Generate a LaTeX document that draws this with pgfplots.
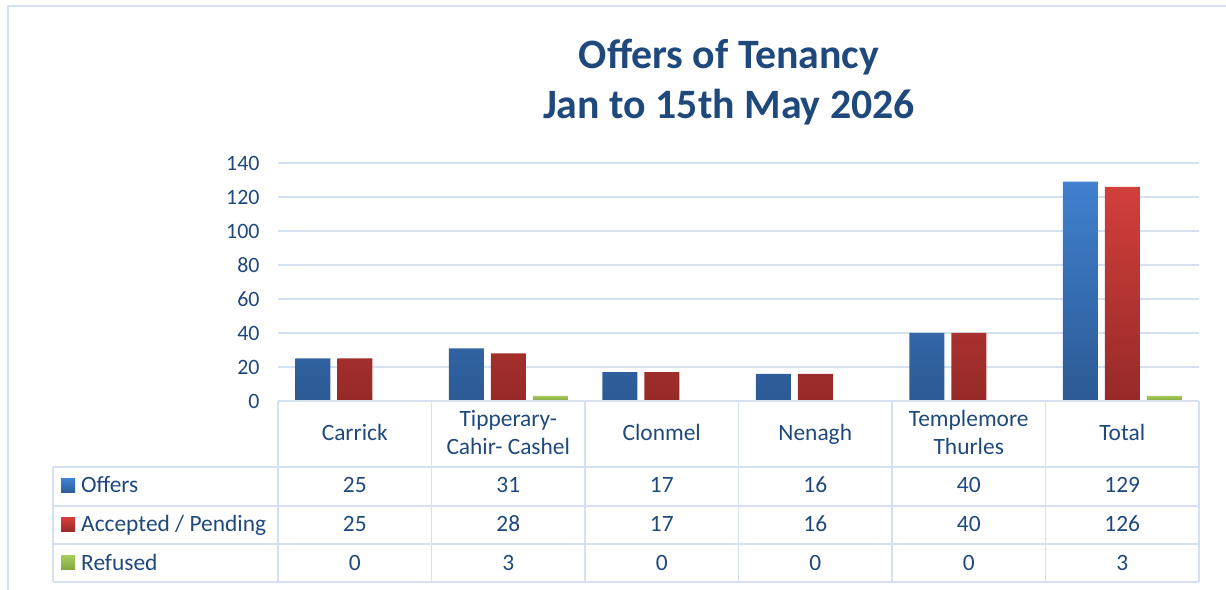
\documentclass[border=0pt]{standalone}
\usepackage{pgfplots}
\pgfplotsset{compat=1.18}
\usepackage{pgfplotstable}
\usepackage{fontspec}
\setmainfont{Carlito}
\definecolor{txt}{HTML}{1F497D}
\definecolor{gridc}{HTML}{D5E1F1}
\definecolor{blueT}{HTML}{4081D0}
\definecolor{blueB}{HTML}{2C5A94}
\definecolor{redT}{HTML}{D23F3B}
\definecolor{redB}{HTML}{962A28}
\definecolor{greenT}{HTML}{A5CB5C}
\definecolor{greenB}{HTML}{82A43F}

\pgfplotstableread{
x offers accepted refused
0 25 25 0
1 31 28 3
2 17 17 0
3 16 16 0
4 40 40 0
5 129 126 3
}\datatable

\newcommand{\tabfont}{\fontsize{23.5}{28}\selectfont\color{txt}}

\begin{document}
\begin{tikzpicture}[x=1bp,y=1bp]
\path[use as bounding box] (0,0) rectangle (1226,590);
% outer frame
\draw[gridc, line width=2.2bp] (8,-5) -- (8,584) -- (1230,584);
% title
\node[anchor=base, inner sep=0, text=txt, font=\fontsize{42}{50}\selectfont\bfseries] at (729,521) {Offers of Tenancy};
\node[anchor=base, inner sep=0, text=txt, font=\fontsize{42}{50}\selectfont\bfseries] at (729,471) {Jan to 15th May 2026};

\begin{axis}[
  at={(278bp,189bp)}, anchor=south west,
  scale only axis, width=921bp, height=238bp,
  xmin=-0.5, xmax=5.5, ymin=0, ymax=140,
  ytick={0,20,...,140}, xtick=\empty,
  axis line style={draw=none},
  major tick length=0pt,
  ymajorgrids, grid style={gridc, line width=1.6bp},
  ybar=7bp, bar width=35bp,
  /pgf/number format/assume math mode=true,
  yticklabel style={font=\fontsize{22}{26}\selectfont, text=txt, xshift=-15bp},
  clip=false,
]
\addplot[draw=none, top color=blueT, bottom color=blueB] table[x=x, y=offers] {\datatable};
\addplot[draw=none, top color=redT, bottom color=redB] table[x=x, y=accepted] {\datatable};
\addplot[draw=none, top color=greenT, bottom color=greenB] table[x=x, y=refused] {\datatable};
\end{axis}

% data table grid
\begin{scope}[gridc, line width=1.6bp]
  \draw (278,189) -- (1199,189);
  \foreach \yy in {123,84,46,8} \draw (53,\yy) -- (1199,\yy);
  \draw (53,123) -- (53,8);
  \foreach \k in {0,...,6} \draw ({278+153.5*\k},189) -- ({278+153.5*\k},8);
\end{scope}

% header labels
\node[anchor=base, inner sep=0, font=\tabfont] at ({278+153.5*0.5},149) {Carrick};
\node[anchor=base, inner sep=0, font=\tabfont] at ({278+153.5*1.5},163) {Tipperary-};
\node[anchor=base, inner sep=0, font=\tabfont] at ({278+153.5*1.5},135) {Cahir- Cashel};
\node[anchor=base, inner sep=0, font=\tabfont] at ({278+153.5*2.5},149) {Clonmel};
\node[anchor=base, inner sep=0, font=\tabfont] at ({278+153.5*3.5},149) {Nenagh};
\node[anchor=base, inner sep=0, font=\tabfont] at ({278+153.5*4.5},163) {Templemore};
\node[anchor=base, inner sep=0, font=\tabfont] at ({278+153.5*4.5},135) {Thurles};
\node[anchor=base, inner sep=0, font=\tabfont] at ({278+153.5*5.5},149) {Total};

% row legend keys and names
\shade[top color=blueT, bottom color=blueB] (61,97) rectangle (75,111);
\shade[top color=redT, bottom color=redB] (61,58) rectangle (75,72);
\shade[top color=greenT, bottom color=greenB] (61,20) rectangle (75,34);
\node[anchor=base west, inner sep=0, font=\tabfont] at (81,97) {Offers};
\node[anchor=base west, inner sep=0, font=\tabfont] at (81,58) {Accepted / Pending};
\node[anchor=base west, inner sep=0, font=\tabfont] at (81,19.5) {Refused};

% row values from the table
\pgfplotstablegetrowsof{\datatable}
\pgfmathtruncatemacro{\nrows}{\pgfplotsretval-1}
\foreach \r in {0,...,\nrows}{
  \pgfplotstablegetelem{\r}{offers}\of{\datatable}\let\vo\pgfplotsretval
  \pgfplotstablegetelem{\r}{accepted}\of{\datatable}\let\va\pgfplotsretval
  \pgfplotstablegetelem{\r}{refused}\of{\datatable}\let\vr\pgfplotsretval
  \node[anchor=base, inner sep=0, font=\tabfont] at ({278+153.5*(\r+0.5)},97) {\vo};
  \node[anchor=base, inner sep=0, font=\tabfont] at ({278+153.5*(\r+0.5)},58) {\va};
  \node[anchor=base, inner sep=0, font=\tabfont] at ({278+153.5*(\r+0.5)},19.5) {\vr};
}
\end{tikzpicture}
\end{document}
